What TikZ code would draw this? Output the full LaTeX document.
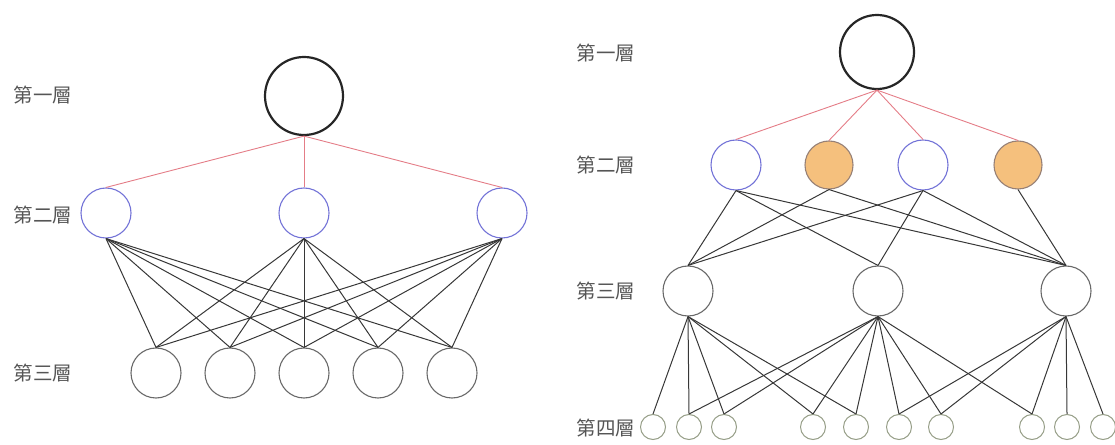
\documentclass[tikz,border=0pt]{standalone}
\usepackage{fontspec}
\newfontfamily\cjk{Noto Sans CJK TC}
\usetikzlibrary{positioning}
\definecolor{linkcolor}{RGB}{55,55,55}
\definecolor{redcolor}{RGB}{228,125,135}
\definecolor{bluecolor}{RGB}{115,115,215}
\definecolor{graycolor}{RGB}{105,105,105}
\definecolor{leafcolor}{RGB}{150,158,135}
\definecolor{orangecolor}{RGB}{245,192,125}
\definecolor{browncolor}{RGB}{150,128,118}
\definecolor{textcolor}{RGB}{85,85,85}

\begin{document}
\begin{tikzpicture}[x=1pt,y=1pt,
    rootnode/.style={circle, draw=black!85, line width=2.2pt, inner sep=0pt, minimum size=78pt},
    bluenode/.style={circle, draw=bluecolor, line width=1.1pt, inner sep=0pt, minimum size=50pt},
    orangenode/.style={circle, draw=browncolor, fill=orangecolor, line width=1.1pt, inner sep=0pt, minimum size=48pt},
    graynode/.style={circle, draw=graycolor, line width=1.1pt, inner sep=0pt, minimum size=50pt},
    leafnode/.style={circle, draw=leafcolor, fill=white, line width=1pt, inner sep=0pt, minimum size=25pt},
    layerlabel/.style={font=\cjk\fontsize{19.5}{19.5}\selectfont, text=textcolor, inner sep=0pt},
    redlink/.style={draw=redcolor, line width=0.9pt},
    link/.style={draw=linkcolor, line width=1pt}]
    \useasboundingbox (0,0) rectangle (1115,444);

    % left tree
    \node[layerlabel] (llab1) at (43,349) {第一層};
    \node[layerlabel] (llab2) at (43,229) {第二層};
    \node[layerlabel] (llab3) at (43,71) {第三層};

    \node[rootnode] (lroot) at (304,348) {};
    \node[bluenode] (la1) at (106,231) {};
    \node[bluenode] (la2) at (304,231) {};
    \node[bluenode] (la3) at (502,231) {};
    \foreach \i/\x in {1/156,2/230,3/304,4/378,5/452}
        \node[graynode] (lb\i) at (\x,71) {};

    \foreach \i in {1,2,3}
        \draw[redlink] (lroot.south) -- (la\i.north);
    \foreach \i in {1,2,3}
        \foreach \j in {1,...,5}
            \draw[link] (la\i.south) -- (lb\j.north);

    % right tree
    \node[layerlabel] (rlab1) at (606,391) {第一層};
    \node[layerlabel] (rlab2) at (606,279) {第二層};
    \node[layerlabel] (rlab3) at (606,153) {第三層};
    \node[layerlabel] (rlab4) at (606,16) {第四層};

    \node[rootnode, minimum size=74pt] (rroot) at (877,392) {};
    \node[bluenode] (ra1) at (736,279) {};
    \node[orangenode] (ra2) at (829,279) {};
    \node[bluenode] (ra3) at (923,279) {};
    \node[orangenode] (ra4) at (1018,279) {};
    \node[graynode] (rb1) at (688,153) {};
    \node[graynode] (rb2) at (878,153) {};
    \node[graynode] (rb3) at (1066,153) {};
    \foreach \i/\x in {1/653,2/689,3/724,4/813,5/856,6/899,7/941,8/1032,9/1067,10/1103}
        \node[leafnode] (rc\i) at (\x,17) {};

    \foreach \i in {1,...,4}
        \draw[redlink] (rroot.south) -- (ra\i.north);
    \foreach \i/\j in {1/1,2/1,3/1,1/2,3/2,1/3,2/3,3/3,4/3}
        \draw[link] (ra\i.south) -- (rb\j.north);
    \foreach \j in {1,...,5}
        \draw[link] (rb1.south) -- (rc\j.north);
    \foreach \j in {2,...,8}
        \draw[link] (rb2.south) -- (rc\j.north);
    \foreach \j in {6,...,10}
        \draw[link] (rb3.south) -- (rc\j.north);
\end{tikzpicture}
\end{document}
